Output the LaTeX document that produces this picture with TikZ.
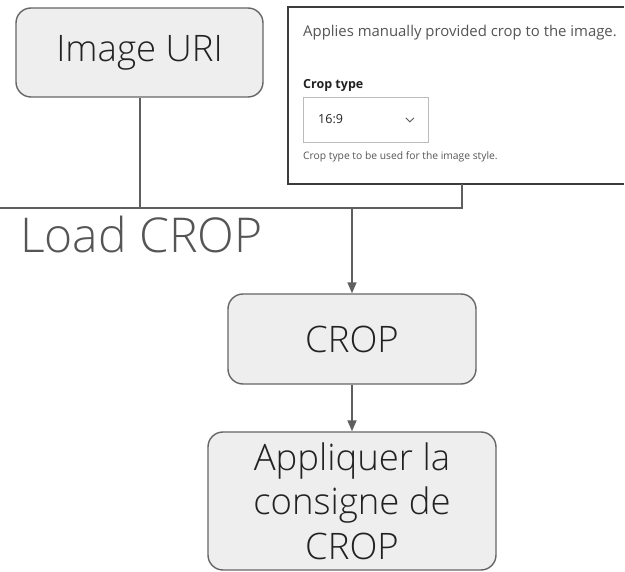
\documentclass[tikz,border=0pt]{standalone}
\usepackage{fontspec}
\setmainfont{Open Sans}
\newfontfamily\lightfont{Open Sans Light}
\newfontfamily\uifont{Open Sans}
\usetikzlibrary{arrows.meta}
\definecolor{boxfill}{HTML}{EEEEEE}
\definecolor{boxline}{HTML}{666666}
\definecolor{conn}{HTML}{5F5F5F}
\definecolor{txt}{HTML}{222222}
\definecolor{shotline}{HTML}{3C3C3C}
\definecolor{uigray}{HTML}{555555}
\definecolor{ddline}{HTML}{BBBBBB}
\tikzset{
  flowbox/.style={draw=boxline, fill=boxfill, line width=1.4pt, rounded corners=15pt,
    align=center, text=txt, font={\lightfont\fontsize{36.5}{44.5}\selectfont}, inner sep=0pt},
  connline/.style={draw=conn, line width=2pt},
  arrowline/.style={draw=conn, line width=1.6pt, -{Triangle[length=11pt,width=9pt]}},
  uitext/.style={anchor=base west, inner sep=0pt, text=uigray},
}
\begin{document}
\begin{tikzpicture}[x=1pt,y=-1pt]
\fill[white] (0,0) rectangle (625,572);
\useasboundingbox (0,0) rectangle (625,572);
% nodes
\node[flowbox, minimum width=247pt, minimum height=89pt] (uri) at (139.5,52.5) {Image URI};
\node[flowbox, minimum width=248pt, minimum height=90pt] (crop) at (352,339) {CROP};
\node[flowbox, minimum width=288pt, minimum height=138pt] (apply) at (352,501) {Appliquer la\\consigne de\\CROP};
% screenshot panel
\node[fill=white, draw=none, minimum width=336pt, minimum height=177pt, anchor=north west, inner sep=0pt] (shot) at (288,7) {};
\draw[shotline, line width=2pt] (shot.north east) -- (shot.north west) -- (shot.south west) -- (shot.south east);
\node[uitext, font={\uifont\fontsize{14.9}{17}\selectfont}] (desc) at (303,37) {Applies manually provided crop to the image.};
\node[uitext, text=txt, font={\uifont\bfseries\fontsize{12.5}{15}\selectfont}] (ctype) at (303,89) {Crop type};
\node[draw=ddline, line width=0.8pt, minimum width=125pt, minimum height=45pt, anchor=north west, inner sep=0pt] (dd) at (303,97) {};
\node[uitext, text=txt, font={\uifont\fontsize{12.5}{15}\selectfont}] (ratio) at (318,124) {16:9};
\draw[uigray, line width=0.9pt] ([xshift=-23pt,yshift=2pt]dd.east) -- ([xshift=-19pt,yshift=-2pt]dd.east) -- ([xshift=-15pt,yshift=2pt]dd.east);
\node[uitext, font={\uifont\fontsize{10.3}{12}\selectfont}] (help) at (303,160) {Crop type to be used for the image style.};
% label
\node[anchor=base west, inner sep=0pt, text=uigray, font={\lightfont\fontsize{48}{56}\selectfont}] (load) at (20,253) {Load CROP};
% connectors
\coordinate (left) at (0,208);
\coordinate (tap) at (462,208);
\coordinate (junction) at (crop.north |- left);
\draw[connline] (uri.south) -- (uri.south |- left);
\draw[connline] (left) -- (tap) -- (tap |- shot.south);
\draw[arrowline] (junction) -- (crop.north);
\draw[arrowline] (crop.south) -- (apply.north);
\end{tikzpicture}
\end{document}
